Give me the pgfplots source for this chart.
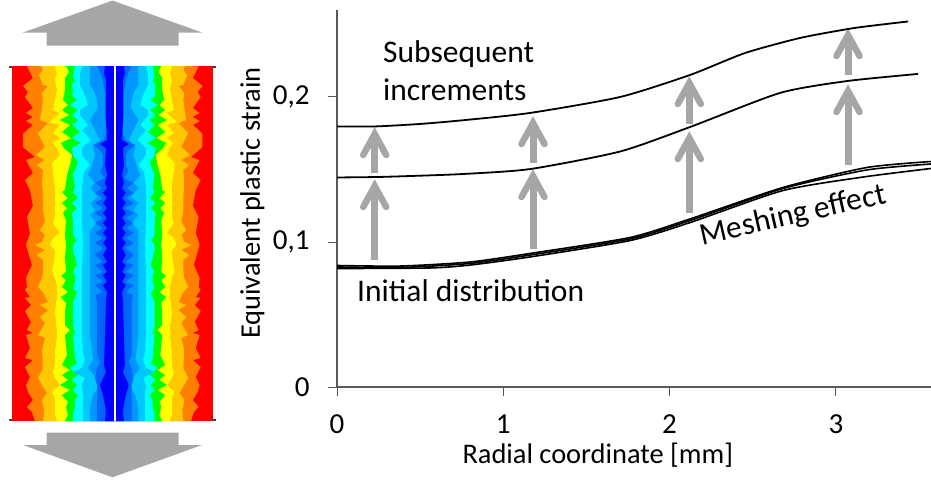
\documentclass[border=0pt]{standalone}
\usepackage{pgfplots}
\usepackage{fontspec}
\pgfplotsset{compat=1.18}
\setmainfont{Carlito}
\definecolor{arrgray}{HTML}{A6A6A6}
\definecolor{axgray}{HTML}{595959}
\definecolor{c1}{HTML}{FF8000}
\definecolor{c2}{HTML}{FFC800}
\definecolor{c3}{HTML}{FFFF00}
\definecolor{c4}{HTML}{00FF00}
\definecolor{c5}{HTML}{00FFFF}
\definecolor{c6}{HTML}{00C8FF}
\definecolor{c7}{HTML}{0096FF}
\definecolor{c8}{HTML}{0064FF}
\definecolor{c9}{HTML}{0000FF}
\newcommand\band[2]{%
 \addplot[fill=#1,draw=none] coordinates {#2 (114.5,421) (114.5,66)};
 \addplot[fill=#1,draw=none,x filter/.expression={115+0.958*(114.3-x)}] coordinates {#2 (114.5,421) (114.5,66)};
}
\newcommand\arr[3]{%
 \addplot[arrgray,line width=7pt] coordinates {(#1,#2) (#1,#3)};
}
\begin{document}
\begin{tikzpicture}[x=1pt,y=1pt]
\useasboundingbox (0,0) rectangle (931,485);
\begin{axis}[at={(0pt,0pt)},anchor=south west,scale only axis,width=931pt,height=485pt,
 xmin=0,xmax=931,ymin=0,ymax=485,y dir=reverse,axis lines=none,clip=true]
\addplot[fill=arrgray,draw=none] coordinates {(112.5,0.5) (202,32.5) (178.5,32.5) (178.5,45.5) (46.7,45.5) (46.7,32.5) (23,32.5)};
\addplot[fill=arrgray,draw=none] coordinates {(112.5,477.3) (202,445) (178.5,445) (178.5,432.7) (46.7,432.7) (46.7,445) (23,445)};
\addplot[color=black!75,line width=1.8pt] coordinates {(9,67) (216,67)};
\addplot[color=black!75,line width=1.8pt] coordinates {(9,420.3) (216,420.3)};
\addplot[fill=red,draw=none] coordinates {(12.3,66) (212.7,66) (212.7,421) (12.3,421)};
\band{c1}{(27,66)(33,78)(23,86)(28,92)(25,97)(33,108)(26,113)(33,117)(26,121)(33,125)(27,130)(23,134)(23,147)(35,157)(26,160)(33,173)(25,180)(30,190)(33,206)(27,217)(30,233)(26,245)(32,265)(26,278)(27,287)(25,290)(30,297)(25,298)(31,305)(25,311)(31,322)(27,330)(33,333)(26,335)(30,348)(25,358)(33,360)(25,367)(30,377)(26,385)(28,392)(33,400)(27,407)(32,412)(35,421)}
\band{c2}{(41,66)(43,70)(39,75)(43,85)(48,86)(42,93)(43,100)(42,108)(40,120)(48,123)(38,133)(45,147)(36,155)(45,160)(37,165)(43,170)(42,183)(43,198)(43,210)(45,222)(40,230)(45,235)(42,242)(35,245)(45,250)(37,255)(43,260)(43,272)(42,278)(38,287)(43,292)(48,302)(40,305)(48,310)(40,317)(45,323)(40,332)(38,335)(45,338)(42,350)(43,368)(38,378)(42,385)(47,393)(42,400)(44,410)(43,421)}
\band{c3}{(55,66)(57,73)(55,80)(57,90)(55,100)(53,110)(60,113)(50,122)(60,125)(53,133)(60,138)(53,143)(57,148)(60,155)(52,163)(53,172)(55,188)(55,205)(55,215)(53,223)(60,233)(53,238)(50,245)(55,250)(55,255)(52,272)(55,278)(57,287)(57,295)(55,312)(57,333)(57,335)(55,352)(55,365)(53,372)(55,378)(60,385)(52,392)(55,398)(55,403)(55,415)(57,421)}
\band{c4}{(66,66)(69,72)(65,78)(65,90)(63,100)(68,105)(62,110)(69,115)(60,120)(70,125)(62,132)(71,138)(61,143)(64,148)(72,155)(70,165)(67,175)(65,190)(62,192)(68,198)(62,203)(67,208)(63,213)(66,220)(65,235)(66,245)(65,258)(66,272)(61,276)(66,280)(62,287)(68,292)(61,297)(66,303)(65,312)(65,325)(70,330)(65,335)(67,355)(62,365)(70,370)(62,375)(68,380)(60,385)(70,390)(62,395)(68,402)(66,407)(68,415)(65,421)}
\band{c5}{(75,66)(73,76)(75,81)(72,84)(73,90)(72,95)(77,100)(70,105)(78,110)(72,115)(78,120)(73,125)(80,132)(72,138)(81,143)(72,148)(73,155)(78,162)(77,165)(73,175)(75,187)(73,192)(78,198)(72,203)(77,208)(72,213)(73,222)(73,235)(77,240)(73,245)(73,250)(77,265)(73,272)(75,275)(75,283)(73,288)(77,293)(73,302)(73,312)(73,325)(75,333)(73,335)(75,358)(77,363)(70,368)(78,375)(72,380)(77,385)(73,390)(78,395)(75,400)(75,407)(73,415)(73,421)}
\band{c6}{(82,66)(80,75)(80,85)(85,95)(88,105)(80,110)(80,115)(88,125)(82,130)(91,140)(82,148)(82,155)(90,165)(84,172)(82,188)(82,205)(82,222)(83,245)(82,270)(82,295)(82,335)(83,352)(85,360)(82,368)(73,372)(85,378)(82,385)(83,395)(83,405)(83,421)}
\band{c7}{(90,66)(90,85)(95,93)(98,107)(90,120)(100,140)(93,147)(95,155)(92,165)(88,175)(95,183)(90,188)(98,197)(90,203)(95,210)(90,215)(97,223)(90,230)(90,245)(90,303)(90,335)(92,352)(93,360)(88,368)(95,377)(100,385)(93,395)(90,407)(90,421)}
\band{c8}{(97,66)(100,72)(103,80)(105,93)(105,115)(107,130)(104,140)(93,145)(100,150)(103,155)(103,165)(100,172)(105,178)(95,183)(102,188)(95,193)(103,198)(95,203)(103,208)(95,213)(103,218)(95,223)(103,228)(95,233)(103,238)(95,243)(103,248)(95,255)(103,262)(95,265)(103,272)(95,275)(103,282)(95,285)(103,292)(96,295)(97,302)(97,310)(97,335)(97,355)(100,362)(97,368)(95,378)(97,385)(97,400)(97,421)}
\band{c9}{(105,66)(104,73)(106,80)(106,120)(107,140)(100,144)(106,148)(105,165)(107,175)(105,183)(107,188)(103,193)(107,198)(103,203)(107,208)(103,213)(107,218)(103,223)(107,228)(103,233)(107,238)(103,243)(107,248)(103,255)(107,262)(103,265)(107,272)(103,275)(107,282)(103,285)(107,292)(106,300)(105,335)(104,365)(106,372)(100,385)(103,395)(106,410)(105,421)}
\addplot[white,line width=1.6pt] coordinates {(114.7,66) (114.7,421)};
\arr{374.7}{260}{188}\arr{374.7}{173}{136}\arr{533}{249}{178}\arr{533}{163}{125}\arr{689.3}{213}{140}\arr{689.3}{124}{85}\arr{848}{165}{93}\arr{848}{75}{37}
\addplot[arrgray,line width=6.5pt,line cap=round,miter limit=10] coordinates {(363.2,207)(374.7,186)(386.2,207)};
\addplot[arrgray,line width=6.5pt,line cap=round,miter limit=10] coordinates {(363.2,155)(374.7,134)(386.2,155)};
\addplot[arrgray,line width=6.5pt,line cap=round,miter limit=10] coordinates {(521.5,197)(533,176)(544.5,197)};
\addplot[arrgray,line width=6.5pt,line cap=round,miter limit=10] coordinates {(521.5,144)(533,123)(544.5,144)};
\addplot[arrgray,line width=6.5pt,line cap=round,miter limit=10] coordinates {(677.8,159)(689.3,138)(700.8,159)};
\addplot[arrgray,line width=6.5pt,line cap=round,miter limit=10] coordinates {(677.8,104)(689.3,83)(700.8,104)};
\addplot[arrgray,line width=6.5pt,line cap=round,miter limit=10] coordinates {(836.5,112)(848,91)(859.5,112)};
\addplot[arrgray,line width=6.5pt,line cap=round,miter limit=10] coordinates {(836.5,56)(848,35)(859.5,56)};
\end{axis}
\begin{axis}[at={(337pt,98pt)},anchor=south west,scale only axis,width=594pt,height=377pt,
 xmin=0,xmax=3.572,ymin=0,ymax=0.26,
 axis x line=bottom,axis y line=left,
 axis line style={-,draw=axgray,line width=1.3pt},
 tick style={draw=axgray,line width=1pt},
 tick align=outside,major tick length=9pt,
 xtick={0,1,2,3},xticklabels={0,1,2,3},
 ytick={0,0.1,0.2},yticklabels={0,{0,1},{0,2}},
 tick label style={font=\fontsize{29}{32}\selectfont},
 xticklabel style={yshift=-15pt},
 yticklabel style={xshift=-15pt},
 xlabel={Radial coordinate [mm]},
 ylabel={Equivalent plastic strain},
 label style={font=\fontsize{28.4}{32}\selectfont},
 x label style={at={(axis description cs:0.439,-0.2016)},anchor=base},
 y label style={at={(axis description cs:-0.13,0.488)},anchor=base},
 clip=true]
\addplot[black,line width=1.8pt,smooth,tension=0.4] coordinates {(0,.1797)(.229,.1797)(.499,.1814)(.770,.1841)(1.161,.1890)(1.702,.2000)(2.123,.2152)(2.453,.2303)(2.784,.2407)(3.073,.2469)(3.205,.2490)(3.434,.2521)};
\addplot[black,line width=1.8pt,smooth,tension=0.4] coordinates {(0,.1445)(.229,.1448)(.439,.1455)(.758,.1469)(1.161,.1503)(1.702,.1624)(2.123,.1793)(2.664,.2028)(3.067,.2110)(3.494,.2159)};
\addplot[black,line width=1.6pt,smooth,tension=0.4] coordinates {(0,.0838)(.379,.0834)(.800,.0862)(1.161,.0921)(1.762,.1031)(2.123,.1159)(2.682,.1376)(3.187,.1514)(3.572,.1555)};
\addplot[black,line width=1.6pt,smooth,tension=0.4] coordinates {(0,.0828)(.379,.0824)(.800,.0852)(1.161,.0910)(1.762,.1021)(2.123,.1148)(2.682,.1369)(3.187,.1497)(3.572,.1538)};
\addplot[black,line width=1.6pt,smooth,tension=0.4] coordinates {(0,.0817)(.559,.0821)(.800,.0841)(1.161,.0897)(1.762,.1010)(2.123,.1134)(2.682,.1355)(3.163,.1448)(3.572,.1507)};
\end{axis}
\node[anchor=base west,inner sep=0pt,font=\fontsize{31.5}{36}\selectfont] at (383,422) {Subsequent};
\node[anchor=base west,inner sep=0pt,font=\fontsize{31.5}{36}\selectfont] at (383,384) {increments};
\node[anchor=base west,inner sep=0pt,font=\fontsize{31.5}{36}\selectfont] at (357,184) {Initial distribution};
\node[anchor=base,inner sep=0pt,rotate=12.8,font=\fontsize{31.5}{36}\selectfont] at (795,261) {Meshing effect};
\end{tikzpicture}
\end{document}
